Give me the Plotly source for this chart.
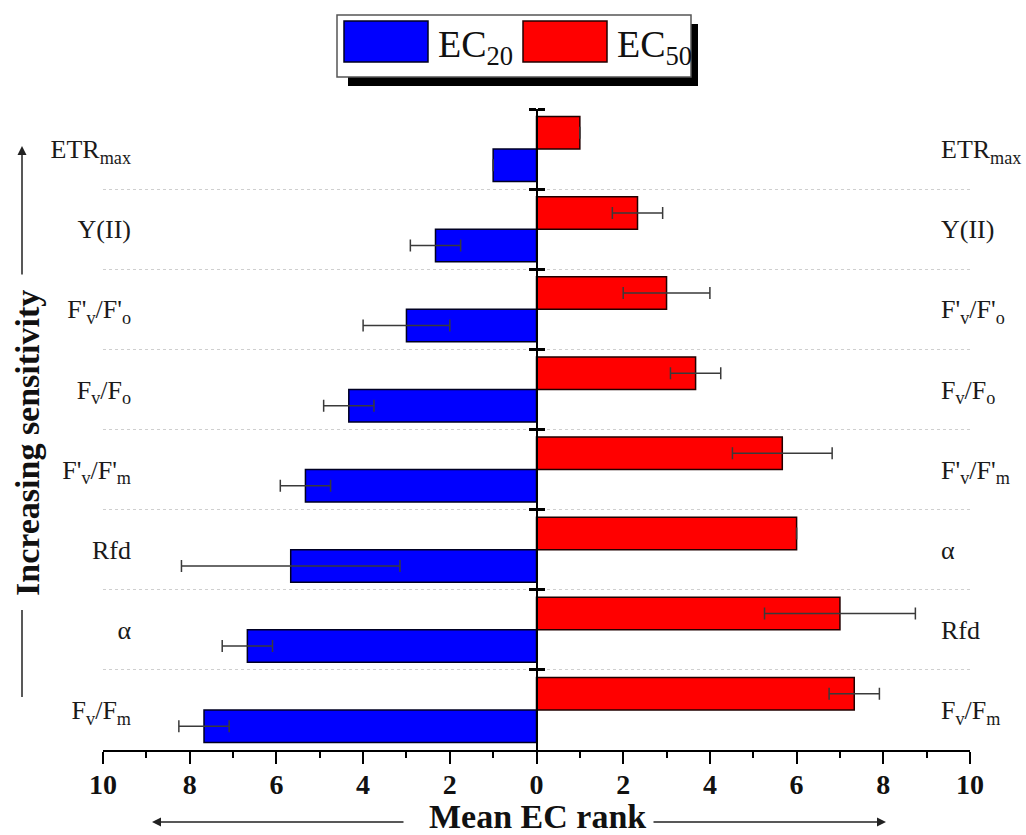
import plotly.graph_objects as go

W, H = 1026, 835

# categories, bottom to top
left_labels = ["F<sub>v</sub>/F<sub>m</sub>", "\u03b1", "Rfd", "F'<sub>v</sub>/F'<sub>m</sub>",
               "F<sub>v</sub>/F<sub>o</sub>", "F'<sub>v</sub>/F'<sub>o</sub>", "Y(II)", "ETR<sub>max</sub>"]
right_labels = ["F<sub>v</sub>/F<sub>m</sub>", "Rfd", "\u03b1", "F'<sub>v</sub>/F'<sub>m</sub>",
                "F<sub>v</sub>/F<sub>o</sub>", "F'<sub>v</sub>/F'<sub>o</sub>", "Y(II)", "ETR<sub>max</sub>"]

ec20_rank = [7.67, 6.67, 5.67, 5.33, 4.33, 3.0, 2.33, 1.0]
ec20_err = [0.58, 0.58, 2.52, 0.58, 0.58, 1.0, 0.58, None]
ec50_rank = [7.33, 7.0, 6.0, 5.67, 3.67, 3.0, 2.33, 1.0]
ec50_err = [0.58, 1.74, None, 1.15, 0.58, 1.0, 0.58, None]

x_tickvals = [-10, -8, -6, -4, -2, 0, 2, 4, 6, 8, 10]
x_ticktext = ["10", "8", "6", "4", "2", "0", "2", "4", "6", "8", "10"]

FONT = "Liberation Serif"
pos = list(range(len(left_labels)))
bounds = [p + 0.5 for p in pos]


def fx(px):
    return px / W


def fy(py):
    return 1 - py / H


fig = go.Figure()

fig.add_trace(go.Bar(
    y=pos, x=[-v for v in ec20_rank], orientation="h", name="EC20",
    marker=dict(color="#0000FF", line=dict(color="#000022", width=1.5)),
    error_x=dict(type="data", array=ec20_err, symmetric=True,
                 color="#3a3a3a", thickness=1.5, width=6),
    showlegend=False,
))
fig.add_trace(go.Bar(
    y=pos, x=ec50_rank, orientation="h", name="EC50",
    marker=dict(color="#FF0000", line=dict(color="#220000", width=1.5)),
    error_x=dict(type="data", array=ec50_err, symmetric=True,
                 color="#3a3a3a", thickness=1.5, width=6),
    showlegend=False,
))
# carriers for the extra y axes (right labels, centre spine ticks)
for ax in ["y2", "y3", "y4"]:
    fig.add_trace(go.Scatter(x=[], y=[], yaxis=ax, showlegend=False, hoverinfo="skip"))

yrange = [-0.5, 7.5]
ydom = [fy(750), fy(109)]
label_font = dict(family=FONT, size=26, color="#1a1a1a")

fig.update_layout(
    width=W, height=H,
    margin=dict(l=0, r=0, t=0, b=0, autoexpand=False),
    paper_bgcolor="white", plot_bgcolor="white",
    barmode="group", bargap=0.19, bargroupgap=0,
    font=dict(family=FONT, color="#111"),
    xaxis=dict(
        domain=[fx(103), fx(970)], range=[-10, 10], anchor="y", automargin=False,
        tickmode="array", tickvals=x_tickvals, ticktext=x_ticktext,
        ticks="outside", ticklen=12, tickwidth=2, tickcolor="black",
        ticklabelstandoff=-4,
        minor=dict(dtick=1, tick0=0, ticks="outside", ticklen=6, tickwidth=2, tickcolor="black"),
        showline=True, linecolor="black", linewidth=2,
        showgrid=False, zeroline=False,
        tickfont=dict(family=FONT, size=28, color="#111", weight="bold"),
    ),
    yaxis=dict(
        domain=ydom, range=yrange, anchor="free", position=fx(131), side="left",
        automargin=False,
        tickmode="array", tickvals=pos, ticktext=left_labels,
        ticks="", showline=False, showgrid=False, zeroline=False,
        tickfont=label_font,
        minor=dict(tickvals=bounds[:-1], showgrid=True, gridcolor="#cfcfcf",
                   griddash="dot", gridwidth=1, ticks=""),
    ),
    yaxis2=dict(
        domain=ydom, range=yrange, overlaying="y", anchor="free", position=fx(940), side="right",
        automargin=False,
        tickmode="array", tickvals=pos, ticktext=right_labels,
        ticks="", showline=False, showgrid=False, zeroline=False,
        tickfont=label_font,
    ),
    yaxis3=dict(
        domain=ydom, range=yrange, overlaying="y", anchor="free", position=fx(537), side="left",
        automargin=False,
        tickmode="array", tickvals=bounds, ticks="outside", ticklen=7, tickwidth=2.5,
        tickcolor="black", showticklabels=False,
        showline=True, linecolor="black", linewidth=2, showgrid=False, zeroline=False,
    ),
    yaxis4=dict(
        domain=ydom, range=yrange, overlaying="y", anchor="free", position=fx(537), side="right",
        automargin=False,
        tickmode="array", tickvals=bounds, ticks="outside", ticklen=7, tickwidth=2.5,
        tickcolor="black", showticklabels=False,
        showline=False, showgrid=False, zeroline=False,
    ),
)

shapes = []
annotations = []

# legend box with drop shadow
shapes.append(dict(type="rect", xref="paper", yref="paper",
                   x0=fx(348), x1=fx(698), y0=fy(86), y1=fy(24),
                   fillcolor="black", line=dict(width=0), layer="above"))
shapes.append(dict(type="rect", xref="paper", yref="paper",
                   x0=fx(337), x1=fx(691), y0=fy(77), y1=fy(15),
                   fillcolor="white", line=dict(color="#555", width=1.5), layer="above"))
shapes.append(dict(type="rect", xref="paper", yref="paper",
                   x0=fx(344), x1=fx(428), y0=fy(62), y1=fy(21),
                   fillcolor="#0000FF", line=dict(color="#000022", width=1.5), layer="above"))
shapes.append(dict(type="rect", xref="paper", yref="paper",
                   x0=fx(523), x1=fx(607), y0=fy(62), y1=fy(21),
                   fillcolor="#FF0000", line=dict(color="#220000", width=1.5), layer="above"))
legend_font = dict(family=FONT, size=38, color="#111")
annotations.append(dict(text="EC<sub>20</sub>", x=fx(436), y=fy(47), xref="paper", yref="paper",
                        xanchor="left", yanchor="middle", showarrow=False, font=legend_font))
annotations.append(dict(text="EC<sub>50</sub>", x=fx(615), y=fy(47), xref="paper", yref="paper",
                        xanchor="left", yanchor="middle", showarrow=False, font=legend_font))

# axis titles
title_font = dict(family=FONT, size=34, color="#111", weight="bold")
annotations.append(dict(text="Mean EC rank", x=fx(537), y=fy(816), xref="paper", yref="paper",
                        xanchor="center", yanchor="middle", showarrow=False, font=title_font))
annotations.append(dict(text="Increasing sensitivity", x=fx(27), y=fy(443), xref="paper", yref="paper",
                        xanchor="center", yanchor="middle", showarrow=False, textangle=-90,
                        font=title_font))

# direction arrows
arrow_style = dict(xref="paper", yref="paper", text="", showarrow=True, arrowhead=2,
                   arrowsize=1.2, arrowwidth=1.5, arrowcolor="#222", axref="pixel", ayref="pixel")
annotations.append(dict(x=fx(152), y=fy(822), ax=253, ay=0, **arrow_style))
annotations.append(dict(x=fx(886), y=fy(822), ax=-234, ay=0, **arrow_style))
annotations.append(dict(x=fx(22), y=fy(146), ax=0, ay=130, **arrow_style))
shapes.append(dict(type="line", xref="paper", yref="paper",
                   x0=fx(22), x1=fx(22), y0=fy(610), y1=fy(697),
                   line=dict(color="#222", width=1.5)))

fig.update_layout(shapes=shapes, annotations=annotations)

fig.write_html("out.html")
